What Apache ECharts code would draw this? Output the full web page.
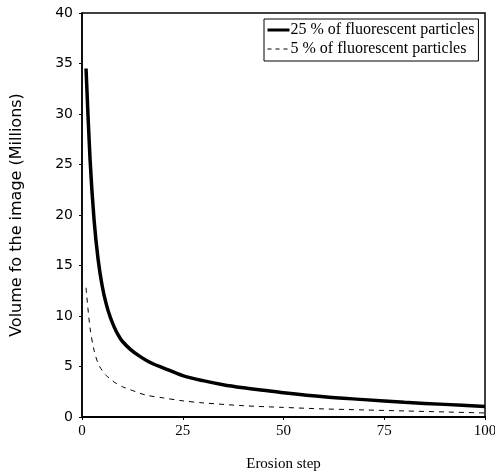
<!DOCTYPE html>
<html>
<head>
<meta charset="utf-8">
<script src="https://cdn.jsdelivr.net/npm/echarts@6/dist/echarts.min.js"></script>
<style>
  html, body {margin: 0; padding: 0; background: #fff;}
  #chart {width: 495px; height: 472px;}
</style>
</head>
<body>
<div id="chart"></div>
<script>
// values
const steps25 = [1, 2, 3, 4, 5, 6, 7, 8, 9, 10, 12, 14, 16, 18, 20, 25, 30, 35, 40, 45, 50, 60, 70, 80, 90, 100];
const volume25 = [34.5, 25.5, 19.5, 15.6, 13.0, 11.2, 9.9, 8.9, 8.1, 7.5, 6.7, 6.1, 5.6, 5.2, 4.9, 4.1, 3.6, 3.2, 2.9, 2.65, 2.4, 2.0, 1.72, 1.45, 1.25, 1.05];

const steps5 = [1, 2, 3, 4, 5, 6, 7, 8, 10, 12, 14, 16, 20, 25, 30, 40, 50, 60, 70, 80, 90, 100];
const volume5 = [12.8, 8.8, 6.6, 5.3, 4.6, 4.1, 3.8, 3.45, 3.0, 2.7, 2.4, 2.15, 1.9, 1.6, 1.4, 1.12, 0.95, 0.8, 0.7, 0.6, 0.5, 0.4];

const seriesNames = ["25 % of fluorescent particles", "5 % of fluorescent particles"];
const xTicks = [0, 25, 50, 75, 100];
const yTicks = [0, 5, 10, 15, 20, 25, 30, 35, 40];

const serif = "Liberation Serif";
const sans = "DejaVu Sans";

const pairs = (xs, ys) => xs.map((x, i) => [x, ys[i]]);

const chart = echarts.init(document.getElementById("chart"));

const option = {
  animation: false,
  grid: {left: 82, right: 10, top: 13, bottom: 55, outerBoundsMode: "none", show: true, borderColor: "#000", borderWidth: 1.5},
  legend: {
    left: 264,
    top: 19,
    orient: "vertical",
    data: [
      {name: seriesNames[0], lineStyle: {color: "#000", width: 3}},
      {name: seriesNames[1], lineStyle: {color: "#000", width: 1.2, type: [4, 4]}},
    ],
    itemWidth: 22,
    itemHeight: 6,
    itemGap: 3,
    padding: [3, 4, 4, 2],
    borderColor: "#000",
    borderWidth: 1,
    backgroundColor: "#fff",
    itemStyle: {opacity: 0},
    textStyle: {fontFamily: serif, fontSize: 16, color: "#000", padding: [0, 0, 0, -4]},
  },
  xAxis: {
    type: "value",
    min: xTicks[0],
    max: xTicks[xTicks.length - 1],
    interval: 25,
    name: "Erosion step",
    nameLocation: "middle",
    nameGap: 40,
    nameTextStyle: {fontFamily: serif, fontSize: 15, color: "#000"},
    axisLine: {lineStyle: {color: "#000", width: 2}},
    axisTick: {show: true, length: 3, lineStyle: {color: "#000"}},
    axisLabel: {fontFamily: serif, fontSize: 15, color: "#000", margin: 7},
    splitLine: {show: false},
  },
  yAxis: {
    type: "value",
    min: yTicks[0],
    max: yTicks[yTicks.length - 1],
    interval: 5,
    name: "Volume fo the image (Millions)",
    nameLocation: "middle",
    nameGap: 57,
    nameTextStyle: {fontFamily: sans, fontSize: 16, color: "#000"},
    axisLine: {lineStyle: {color: "#000", width: 1.5}},
    axisTick: {show: true, length: 3, lineStyle: {color: "#000"}},
    axisLabel: {fontFamily: sans, fontSize: 14, color: "#000", margin: 9},
    splitLine: {show: false},
  },
  series: [
    {
      name: seriesNames[0],
      type: "line",
      data: pairs(steps25, volume25),
      smooth: 0.3,
      symbol: "none",
      lineStyle: {color: "#000", width: 3.5},
      itemStyle: {color: "#000"},
    },
    {
      name: seriesNames[1],
      type: "line",
      data: pairs(steps5, volume5),
      smooth: 0.3,
      symbol: "none",
      lineStyle: {color: "#000", width: 1, type: [5, 5]},
      itemStyle: {color: "#000"},
    },
  ],
};

chart.setOption(option);
</script>
</body>
</html>
